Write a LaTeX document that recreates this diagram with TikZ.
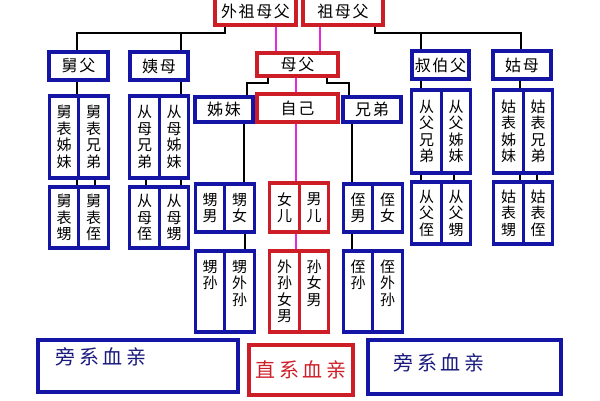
\documentclass[tikz,border=0pt]{standalone}
\usepackage{fontspec}
\setmainfont{Noto Sans CJK SC}
\newfontfamily\cjkw[LetterSpace=10]{Noto Sans CJK SC}
\newfontfamily\cjkl[LetterSpace=18]{Noto Sans CJK SC}
\definecolor{pxblue}{RGB}{20,20,165}
\definecolor{zxred}{RGB}{205,30,40}
\definecolor{xlpink}{RGB}{225,45,215}
\definecolor{lgblue}{RGB}{25,25,125}
\newcommand{\kong}{\phantom{孙}}
\tikzset{
  redbox/.style={draw=zxred,line width=3.2pt,inner sep=0pt,font=\cjkw\fontsize{16}{18}\selectfont},
  bluebox/.style={redbox,draw=pxblue},
  colbox/.style={draw=pxblue,line width=3.2pt,inner sep=0pt,minimum width=29.5,align=center,font=\fontsize{15}{16.5}\selectfont},
  redcol/.style={colbox,draw=zxred},
  blk/.style={line width=2.8pt},
  pink/.style={line width=2.8pt,draw=xlpink},
}

\begin{document}
\begin{tikzpicture}[x=1pt,y=-1pt]
            \useasboundingbox (0,0) rectangle (600,400);
            % direct line, top
            \node[redbox,minimum width=81,minimum height=28] (wzfm) at (255.5,11) {外祖母父};
            \node[redbox,minimum width=80,minimum height=28] (zfm) at (343,11) {祖母父};
            \node[redbox,minimum width=81,minimum height=23] (mf) at (297.5,64.5) {母父};
            \node[redbox,minimum width=81,minimum height=28] (zj) at (297.5,108) {自己};
            \node[bluebox,minimum width=58,minimum height=25] (zm) at (224,109.5) {姊妹};
            \node[bluebox,minimum width=58,minimum height=25] (xd) at (372,109.5) {兄弟};
            % uncles and aunts
            \node[bluebox,minimum width=59,minimum height=28] (jf) at (78.5,66) {舅父};
            \node[bluebox,minimum width=58,minimum height=28] (ym) at (159,66) {姨母};
            \node[bluebox,minimum width=57,minimum height=28] (sbf) at (440.5,65) {叔伯父};
            \node[bluebox,minimum width=58,minimum height=28] (gm) at (522,65) {姑母};
            % cousins
            \node[colbox,minimum height=82] (jbzm) at (64,137) {舅\\表\\姊\\妹};
            \node[colbox,minimum height=82] (jbxd) at (93.5,137) {舅\\表\\兄\\弟};
            \node[colbox,minimum height=61] (jbs) at (64,217.5) {舅\\表\\甥};
            \node[colbox,minimum height=61] (jbz) at (93.5,217.5) {舅\\表\\侄};
            \node[colbox,minimum height=82] (cmxd) at (144.5,137) {从\\母\\兄\\弟};
            \node[colbox,minimum height=82] (cmzm) at (174,137) {从\\母\\姊\\妹};
            \node[colbox,minimum height=61] (cmz) at (144.5,217.5) {从\\母\\侄};
            \node[colbox,minimum height=61] (cms) at (174,217.5) {从\\母\\甥};
            \node[colbox,minimum height=83] (cfxd) at (426.5,131.5) {从\\父\\兄\\弟};
            \node[colbox,minimum height=83] (cfzm) at (456,131.5) {从\\父\\姊\\妹};
            \node[colbox,minimum height=62] (cfz) at (426.5,213) {从\\父\\侄};
            \node[colbox,minimum height=62] (cfs) at (456,213) {从\\父\\甥};
            \node[colbox,minimum height=83] (gbzm) at (508.5,131.5) {姑\\表\\姊\\妹};
            \node[colbox,minimum height=83] (gbxd) at (538,131.5) {姑\\表\\兄\\弟};
            \node[colbox,minimum height=62] (gbs) at (508.5,213) {姑\\表\\甥};
            \node[colbox,minimum height=62] (gbz) at (538,213) {姑\\表\\侄};
            % children
            \node[colbox,minimum height=48] (sn) at (210,208) {甥\\男};
            \node[colbox,minimum height=48] (snv) at (239.5,208) {甥\\女};
            \node[redcol,minimum height=49] (ne) at (284.5,207.5) {女\\儿};
            \node[redcol,minimum height=49] (nr) at (314,207.5) {男\\儿};
            \node[colbox,minimum height=48] (zn) at (358,208) {侄\\男};
            \node[colbox,minimum height=48] (znv) at (387.5,208) {侄\\女};
            % grandchildren
            \node[colbox,minimum height=81] (ss) at (210,291.5) {甥\\孙\\\kong\\\kong};
            \node[colbox,minimum height=81] (sws) at (239.5,291.5) {甥\\外\\孙\\\kong};
            \node[redcol,minimum height=81] (wsnn) at (284.5,291.5) {外\\孙\\女\\男};
            \node[redcol,minimum height=81] (snn) at (314,291.5) {孙\\女\\男\\\kong};
            \node[colbox,minimum height=81] (zs) at (358,291.5) {侄\\孙\\\kong\\\kong};
            \node[colbox,minimum height=81] (zws) at (387.5,291.5) {侄\\外\\孙\\\kong};
            % legend
            \node[draw=pxblue,line width=3.2pt,minimum width=200,minimum height=52] (pxz) at (138,366) {};
            \node[anchor=west,inner sep=0pt,text=lgblue,font=\cjkl\fontsize{20}{22}\selectfont] (pxzt) at ([xshift=19pt,yshift=9pt]pxz.west) {旁系血亲};
            \node[draw=zxred,line width=3.2pt,minimum width=104,minimum height=50,inner sep=0pt,text=zxred,font=\cjkl\fontsize{20}{22}\selectfont] (zx) at (301,370) {直系血亲};
            \node[draw=pxblue,line width=3.2pt,minimum width=193,minimum height=54] (pxy) at (464.5,367) {};
            \node[anchor=west,inner sep=0pt,text=lgblue,font=\cjkl\fontsize{20}{22}\selectfont] (pxyt) at ([xshift=27pt,yshift=4pt]pxy.west) {旁系血亲};
            % connectors
            \draw[blk] (wzfm.south -| 225,0) -- (225,33) -- (77,33) -- (jf.north -| 77,0);
            \draw[blk] (181,33) -- (ym.north -| 181,0);
            \draw[blk] (zfm.south -| 375,0) -- (375,33) -- (521,33) -- (gm.north -| 521,0);
            \draw[blk] (421,33) -- (sbf.north -| 421,0);
            \draw[blk] (mf.south -| 268,0) -- (268,83) -- (247,83) -- (zm.north -| 247,0);
            \draw[blk] (mf.south -| 327,0) -- (327,83) -- (349,83) -- (xd.north -| 349,0);
            \draw[blk] (zm.south -| 244,0) -- (sn.north -| 244,0);
            \draw[blk] (snv.south -| 245,0) -- (sws.north -| 245,0);
            \draw[blk] (xd.south -| 352,0) -- (zn.north -| 352,0);
            \draw[blk] (zn.south -| 352,0) -- (zs.north -| 352,0);
            \draw[pink] (wzfm.south -| 276,0) -- (mf.north -| 276,0);
            \draw[pink] (zfm.south -| 320,0) -- (mf.north -| 320,0);
            \draw[pink] (mf.south -| 296,0) -- (zj.north -| 296,0);
            \draw[pink] (zj.south -| 296,0) -- (ne.north -| 296,0);
            \draw[pink] (ne.south -| 296,0) -- (wsnn.north -| 296,0);
            \draw[blk] (jf.south -| 77,0) -- (jbzm.north -| 77,0);
            \draw[blk] (ym.south -| 181,0) -- (cmzm.north -| 181,0);
            \draw[blk] (sbf.south -| 421,0) -- (cfxd.north -| 421,0);
            \draw[blk] (gm.south -| 520,0) -- (gbzm.north -| 520,0);
            \foreach \x/\a/\b in {77/jbzm/jbs,95/jbxd/jbz,146/cmxd/cmz,181/cmzm/cms,421/cfxd/cfz,454/cfzm/cfs,520/gbzm/gbs,537/gbxd/gbz}
                \draw[blk] (\a.south -| \x,0) -- (\b.north -| \x,0);
        \end{tikzpicture}
\end{document}
